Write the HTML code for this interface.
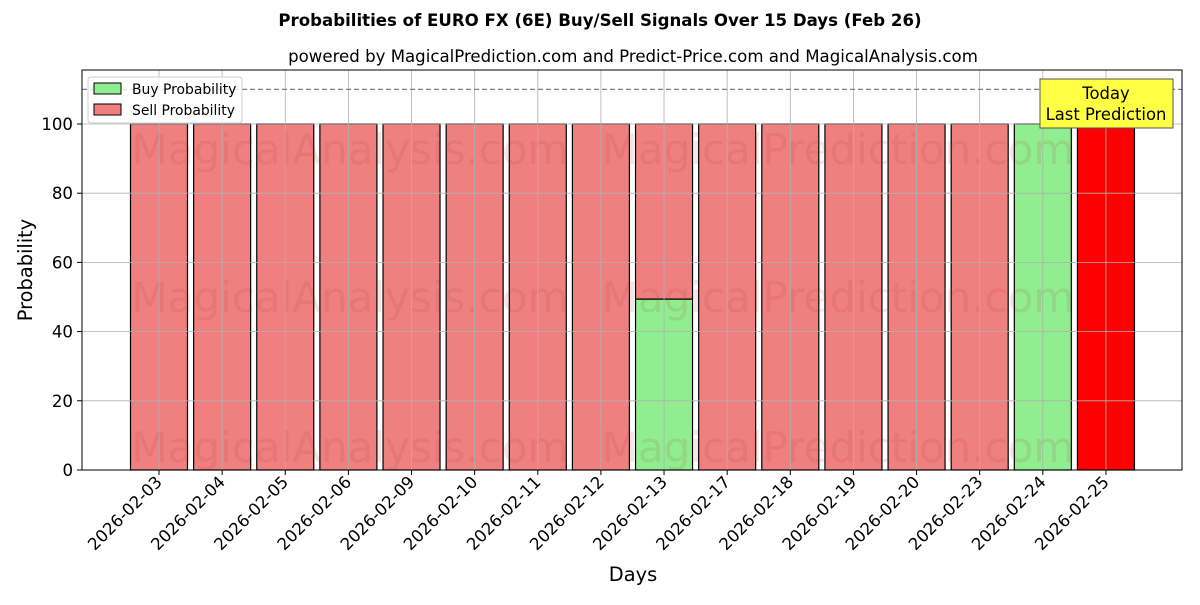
<!DOCTYPE html>
<html><head><meta charset="utf-8"><style>
body{margin:0;background:#fff;font-family:"Liberation Sans","DejaVu Sans",sans-serif}
svg text{font-family:"DejaVu Sans","Liberation Sans",sans-serif}
</style></head><body>
<svg id="c" width="1200" height="600" xmlns="http://www.w3.org/2000/svg"></svg>
<script>
const days=["2026-02-03","2026-02-04","2026-02-05","2026-02-06","2026-02-09","2026-02-10","2026-02-11","2026-02-12","2026-02-13","2026-02-17","2026-02-18","2026-02-19","2026-02-20","2026-02-23","2026-02-24","2026-02-25"];
const buyValues=[0,0,0,0,0,0,0,0,49.4,0,0,0,0,0,100,0];
const sellValues=[100,100,100,100,100,100,100,100,50.6,100,100,100,100,100,0,100];
const yTicks=[0,20,40,60,80,100];
const thresholdLine=110;
const svg=document.getElementById('c');
const NS='http://www.w3.org/2000/svg';
const L=82,R=1182,T=70,B=470,yMax=115.6;
const y=v=>B-v/yMax*(B-T);
const x=i=>159+i*63.13;
const bw=57;
function el(tag,attrs,parent){const e=document.createElementNS(NS,tag);for(const k in attrs)e.setAttribute(k,attrs[k]);(parent||svg).appendChild(e);return e;}
function txt(s,attrs){const e=el('text',attrs);e.textContent=s;return e;}
let t=txt('Probabilities of EURO FX (6E) Buy/Sell Signals Over 15 Days (Feb 26)',{x:600,y:26,'text-anchor':'middle','font-size':16.6,'font-weight':'bold'});

t=txt('powered by MagicalPrediction.com and Predict-Price.com and MagicalAnalysis.com',{x:633,y:62,'text-anchor':'middle','font-size':16.6});

days.forEach((d,i)=>{
  const last=i===days.length-1;
  if(buyValues[i]>0){const r=el('rect',{x:x(i)-bw/2,y:y(buyValues[i]),width:bw,height:y(0)-y(buyValues[i]),fill:'#90ee90',stroke:'#000','stroke-width':1.2});
  }
  if(sellValues[i]>0){const r=el('rect',{x:x(i)-bw/2,y:y(buyValues[i]+sellValues[i]),width:bw,height:y(buyValues[i])-y(buyValues[i]+sellValues[i]),fill:last?'#ff0000':'#f08080',stroke:'#000','stroke-width':1.2});
  }
});
[[350,150],[838,150],[350,298],[838,298],[350,448],[838,448]].forEach((p,k)=>{
  const w=txt(k%2?'MagicalPrediction.com':'MagicalAnalysis.com',{x:p[0],y:p[1]+14,'text-anchor':'middle','font-size':42,fill:'#b03030','fill-opacity':0.12});
  
});
yTicks.forEach(v=>{const g=el('line',{x1:L,x2:R,y1:y(v),y2:y(v),stroke:'#b0b0b0','stroke-width':0.8});
});
days.forEach((d,i)=>{const g=el('line',{x1:x(i),x2:x(i),y1:T,y2:B,stroke:'#b0b0b0','stroke-width':0.8});
});
const th=el('line',{x1:L,x2:R,y1:y(thresholdLine),y2:y(thresholdLine),stroke:'#808080','stroke-width':1.3,'stroke-dasharray':'5,3'});

const ax=el('rect',{x:L,y:T,width:R-L,height:B-T,fill:'none',stroke:'#000','stroke-width':1});

yTicks.forEach(v=>{el('line',{x1:L-5,x2:L,y1:y(v),y2:y(v),stroke:'#000'});
const l=txt(String(v),{x:L-9,y:y(v)+6,'text-anchor':'end','font-size':16.6});
});
days.forEach((d,i)=>{el('line',{x1:x(i),x2:x(i),y1:B,y2:B+5,stroke:'#000'});
const l=txt(d,{x:x(i)+4,y:B+13,'text-anchor':'end','font-size':16.6,transform:`rotate(-45 ${x(i)+4} ${B+13})`});
});
t=txt('Days',{x:633,y:581,'text-anchor':'middle','font-size':19.4});

t=txt('Probability',{x:32,y:270,'text-anchor':'middle','font-size':19.4,transform:'rotate(-90 32 270)'});

const lg=el('g',{});
el('rect',{x:88,y:77,width:154,height:46,fill:'#fff','fill-opacity':0.8,stroke:'#ccc',rx:3},lg);
el('rect',{x:94,y:83,width:27,height:11,fill:'#90ee90',stroke:'#000'},lg);
el('rect',{x:94,y:104,width:27,height:11,fill:'#f08080',stroke:'#000'},lg);
let e=el('text',{x:132,y:94,'font-size':13.9},lg);e.textContent='Buy Probability';
e=el('text',{x:132,y:115,'font-size':13.9},lg);e.textContent='Sell Probability';
const tb=el('g',{});
el('rect',{x:1040,y:79,width:133,height:49,fill:'#ffff44',stroke:'#555'},tb);
e=el('text',{x:1106,y:99,'text-anchor':'middle','font-size':16.4},tb);e.textContent='Today';
e=el('text',{x:1106,y:120,'text-anchor':'middle','font-size':16.4},tb);e.textContent='Last Prediction';
</script></body></html>
